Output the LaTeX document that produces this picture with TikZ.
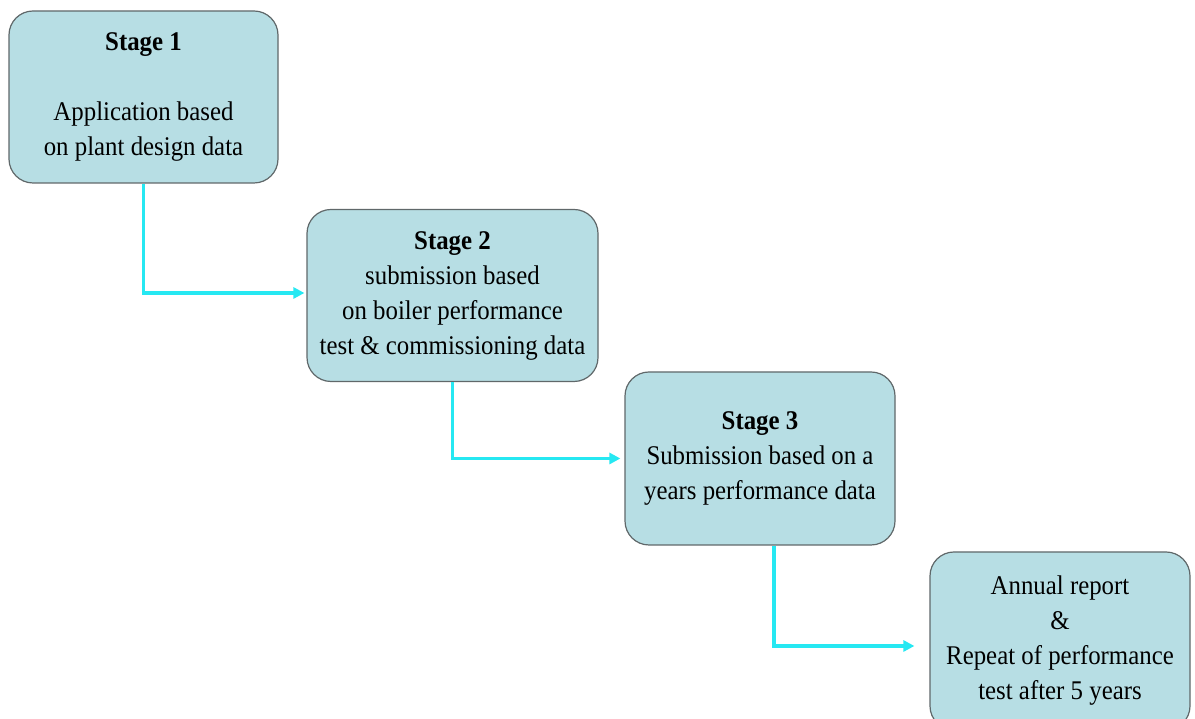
\documentclass[tikz,border=0pt]{standalone}
\usepackage{fontspec}
\setmainfont{Liberation Serif}[FakeStretch=0.92]
\usetikzlibrary{arrows.meta}
\begin{document}
\begin{tikzpicture}[x=1pt,y=1pt]
\definecolor{fillColor}{RGB}{183,222,228}
\definecolor{drawColor}{RGB}{96,104,106}
\definecolor{flowColor}{RGB}{38,232,242}
\tikzset{
  stagebox/.style={draw=drawColor,fill=fillColor,line width=1.2pt,rounded corners=24pt,
    align=center,inner sep=0pt,font=\fontsize{27}{35}\selectfont},
  flow/.style={draw=flowColor,line width=3.8pt,-{Triangle[length=11pt,width=11pt]}}
}
\path[use as bounding box,fill=white] (0,0) rectangle (1195,719);
\clip (0,0) rectangle (1195,719);

\node[stagebox,minimum width=269pt,minimum height=172pt] (s1) at (143.5,622)
  {\textbf{Stage 1}\\[35pt]Application based\\on plant design data};
\node[stagebox,minimum width=291pt,minimum height=172pt] (s2) at (452.5,423.5)
  {\textbf{Stage 2}\\submission based\\on boiler performance\\test \& commissioning data};
\node[stagebox,minimum width=270pt,minimum height=173pt] (s3) at (760,260.5)
  {\textbf{Stage 3}\\Submission based on a\\years performance data};
\node[stagebox,minimum width=260pt,minimum height=178pt] (s4) at (1060,78)
  {Annual report\\\&\\Repeat of performance\\test after 5 years};

\draw[flow,shorten >=2pt] (s1.south) |- ([yshift=2.5pt]s2.west);
\draw[flow,shorten >=4pt] (s2.south) |- (s3.west);
\draw[flow,shorten >=15pt] ([xshift=14pt]s3.south) |- ([yshift=-5pt]s4.west);
\end{tikzpicture}
\end{document}
